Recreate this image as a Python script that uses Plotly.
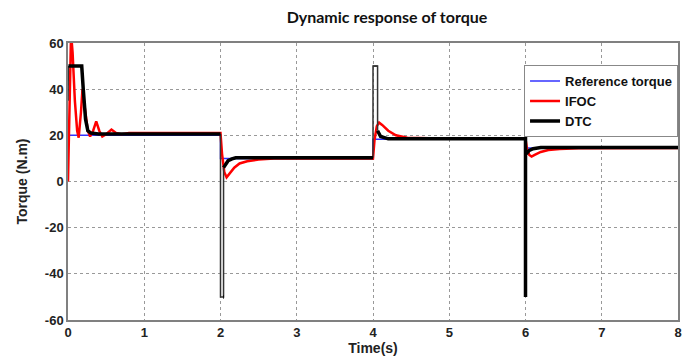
import plotly.graph_objects as go

# Reference torque
ref_t = [0, 2, 2, 4, 4, 6, 6, 8]
ref_v = [20, 20, 10, 10, 18.3, 18.3, 14.5, 14.5]

# IFOC response
ifoc_t = [0, 0.02, 0.04, 0.06, 0.09, 0.12, 0.14, 0.17, 0.19, 0.22, 0.26, 0.29, 0.33, 0.37,
          0.41, 0.45, 0.5, 0.57, 0.63, 0.7, 0.8, 1.0, 2.0,
          2.02, 2.05, 2.08, 2.12, 2.18, 2.25, 2.35, 2.5, 2.7, 4.0,
          4.02, 4.05, 4.08, 4.12, 4.2, 4.3, 4.45, 4.6, 5.0, 6.0,
          6.02, 6.05, 6.08, 6.12, 6.2, 6.3, 6.45, 6.7, 8.0]
ifoc_v = [0, 35, 64, 56, 35, 22, 19, 30, 40, 32, 22, 19.5, 22, 26,
          22, 19.5, 20.5, 22.5, 21, 20.5, 21, 21, 21,
          12, 4, 1.8, 3.5, 6, 7.8, 8.8, 9.5, 10, 10,
          18, 24, 25.5, 24.5, 22, 20, 19, 18.8, 18.5, 18.5,
          14, 11.5, 10.8, 11.5, 12.8, 13.6, 14.1, 14.4, 14.5]

# DTC response (settled parts, thick trace)
dtc_t = [0.005, 0.18, 0.2, 0.23, 0.26, 0.3, 0.4, 2.0, None,
         2.035, 2.045, None,
         2.04, 2.06, 2.1, 2.15, 2.2, 4.0, None,
         4.06, 4.1, 4.2, 6.0, 6.0, 6.0,
         6.01, 6.05, 6.1, 6.2, 8.0]
dtc_v = [50, 50, 40, 27, 22, 21, 20.6, 20.6, None,
         -50, -50, None,
         6, 7, 9, 9.8, 10.3, 10.3, None,
         22, 19.5, 18.5, 18.5, -50, 12,
         12, 13.5, 14.2, 14.7, 14.7]

# DTC transient spikes (fast switching, thin outline)
spike_t = [0, 0.005, None, 2.0, 2.0, 2.04, 2.04, None, 4.0, 4.0, 4.06, 4.06, None, 4.0, 4.06]
spike_v = [35, 50, None, 20.6, -50, -50, 6, None, 10.3, 50, 50, 22, None, 50, 50]

x_ticks = [0, 1, 2, 3, 4, 5, 6, 7, 8]
y_ticks = [-60, -40, -20, 0, 20, 40, 60]

FONT = "Liberation Sans, Arial"

fig = go.Figure()
fig.add_trace(go.Scatter(x=ref_t, y=ref_v, mode="lines", name="Reference torque",
                         line=dict(color="#3333ff", width=1.5)))
fig.add_trace(go.Scatter(x=ifoc_t, y=ifoc_v, mode="lines", name="IFOC",
                         line=dict(color="#ff0000", width=2.5)))
fig.add_trace(go.Scatter(x=spike_t, y=spike_v, mode="lines", name="DTC spikes", showlegend=False,
                         line=dict(color="#333333", width=1.5)))
fig.add_trace(go.Scatter(x=dtc_t, y=dtc_v, mode="lines", name="DTC",
                         line=dict(color="#000000", width=3.5)))

axis_common = dict(
    showgrid=True, gridcolor="#999999", griddash="dot", gridwidth=1,
    showline=True, linecolor="#808080", linewidth=1.5, mirror=True,
    zeroline=False, ticks="", ticklabeloverflow="allow",
    tickfont=dict(family=FONT, size=13, color="#222222", weight="bold"),
)

fig.update_xaxes(range=[0, 8], tickvals=x_ticks, ticktext=[str(v) for v in x_ticks],
                 title=dict(text="Time(s)", standoff=2,
                            font=dict(family=FONT, size=14, color="#222222", weight="bold")),
                 **axis_common)
fig.update_yaxes(range=[-60, 60], tickvals=y_ticks, ticktext=[str(v) for v in y_ticks],
                 title=dict(text="Torque (N.m)", standoff=14,
                            font=dict(family=FONT, size=14, color="#222222", weight="bold")),
                 **axis_common)

fig.update_layout(
    width=683, height=356,
    margin=dict(l=68, r=1, t=43, b=36),
    paper_bgcolor="white", plot_bgcolor="white",
    title=dict(text="Dynamic response of torque", x=387/683, xanchor="center",
               y=1 - 17/356, yanchor="middle", xref="container", yref="container",
               font=dict(family="Lato, Open Sans", size=16, color="#111111", weight="bold")),
    legend=dict(x=0.7476, y=0.92, xanchor="left", yanchor="top",
                bgcolor="white", bordercolor="#888888", borderwidth=1,
                font=dict(family=FONT, size=13, color="#111111", weight="bold"),
                itemwidth=30, tracegroupgap=0),
    showlegend=True,
)

fig.write_html("out.html")
